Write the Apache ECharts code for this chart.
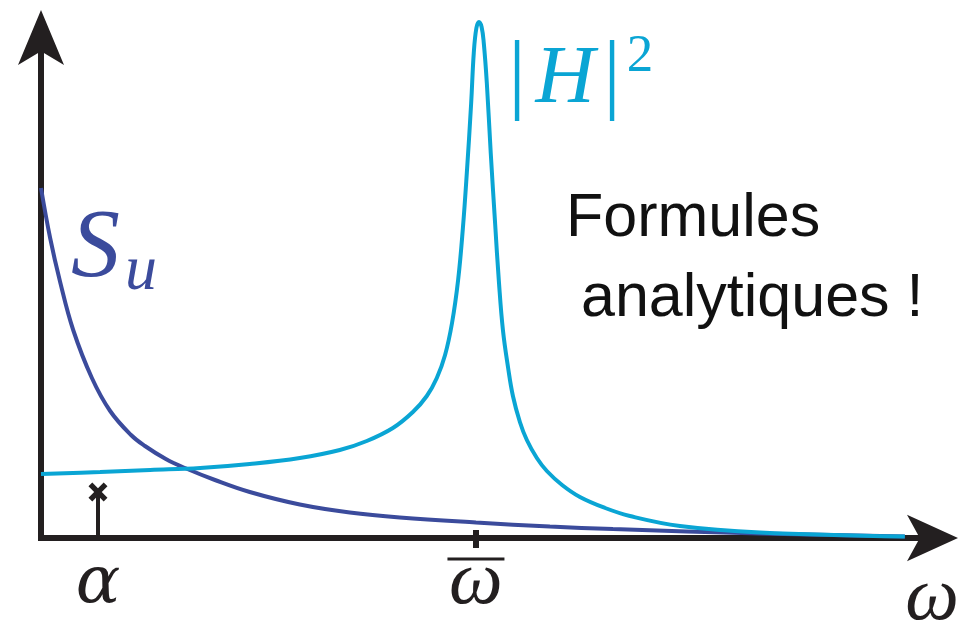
<!DOCTYPE html>
<html><head><meta charset="utf-8">
<script src="https://cdn.jsdelivr.net/npm/echarts@6/dist/echarts.min.js"></script>
<style>html,body{margin:0;padding:0;background:#fff}#c{width:959px;height:626px}</style>
</head><body><div id="c"></div>
<script>
// ---- data (omega in units of omega-bar) ----
const SU_W   = [0, 0.021, 0.044, 0.074, 0.117, 0.159, 0.207, 0.239, 0.287, 0.331, 0.400, 0.480, 0.595, 0.710, 0.825, 1.000, 1.170, 1.315, 1.653, 1.986];
const SU_VAL = [0.700, 0.600, 0.512, 0.416, 0.320, 0.254, 0.206, 0.184, 0.158, 0.140, 0.116, 0.092, 0.067, 0.051, 0.041, 0.031, 0.023, 0.018, 0.009, 0.003];
const H_W   = [0, 0.136, 0.251, 0.366, 0.480, 0.595, 0.687, 0.749, 0.809, 0.855, 0.887, 0.910, 0.929, 0.945, 0.959, 0.970, 0.979, 0.989, 0.995, 1.001, 1.007, 1.013, 1.018, 1.025, 1.034, 1.044, 1.053, 1.062, 1.074, 1.085, 1.101, 1.117, 1.140, 1.163, 1.198, 1.239, 1.297, 1.354, 1.469, 1.653, 1.986];
const H_VAL = [0.128, 0.132, 0.136, 0.140, 0.148, 0.160, 0.176, 0.194, 0.220, 0.252, 0.284, 0.320, 0.366, 0.430, 0.516, 0.620, 0.730, 0.870, 0.970, 1.020, 1.032, 1.022, 0.990, 0.910, 0.770, 0.630, 0.510, 0.416, 0.340, 0.284, 0.232, 0.196, 0.160, 0.134, 0.106, 0.082, 0.060, 0.044, 0.024, 0.011, 0.003];
const ALPHA = 0.131;
const ALPHA_MARK = 0.092;
const OMEGA_BAR = 1;
const X_MAX = 2.083;
const Y_MAX = 1.034;
const TICK_LABELS = ['α', 'ω'];
const AXIS_NAME = 'ω';
const SU_LABEL = ['S', 'u'];
const H_LABEL = ['|', 'H', '|', '2'];
const NOTE_LINES = ['Formules', 'analytiques !'];

const AXIS_C = '#231f20', SU_C = '#3b4b9c', H_C = '#0aa5d4';
const serif = "'Liberation Serif', 'DejaVu Serif', serif";
const dserif = "'DejaVu Serif', 'Liberation Serif', serif";
const sans = "'Liberation Sans', Arial, sans-serif";
const zip = (a, b) => a.map((x, i) => [x, b[i]]);
const CROSS = 'path://M0,2L2,0L5,3L8,0L10,2L7,5L10,8L8,10L5,7L2,10L0,8L3,5Z';

const chart = echarts.init(document.getElementById('c'));
const mathText = (t, x, y, size, color, italic, align) => ({
  type: 'text', silent: true,
  style: { text: t, x: x, y: y, font: (italic ? 'italic ' : '') + size + 'px ' + serif,
           fill: color, align: align || 'left', verticalAlign: 'middle' }
});
const option = {
  animation: false,
  backgroundColor: '#fff',
  grid: { left: 41, right: 12, top: 21, bottom: 88, outerBoundsMode: 'none', containLabel: false },
  xAxis: [{
    type: 'value', min: 0, max: X_MAX, position: 'bottom',
    axisLine: { show: true, onZero: false, symbol: ['none', 'arrow'], symbolSize: [35, 51], symbolOffset: [0, 11],
                lineStyle: { color: AXIS_C, width: 6, cap: 'square' } },
    axisTick: { show: true, customValues: [OMEGA_BAR], length: 10, lineStyle: { color: AXIS_C, width: 6 } },
    axisLabel: {
      show: true, customValues: [ALPHA, OMEGA_BAR], margin: 15,
      formatter: v => Math.abs(v - OMEGA_BAR) < 1e-9 ? '{bar| }\n{w|' + TICK_LABELS[1] + '}' : '{a|' + TICK_LABELS[0] + '}',
      rich: {
        a: { fontFamily: dserif, fontStyle: 'italic', fontSize: 66, lineHeight: 64, color: AXIS_C },
        bar: { width: 57, height: 3, lineHeight: 12, fontSize: 1, backgroundColor: AXIS_C },
        w: { fontFamily: serif, fontStyle: 'italic', fontSize: 76, lineHeight: 36, color: AXIS_C }
      }
    },
    splitLine: { show: false },
    name: AXIS_NAME, nameLocation: 'end', nameGap: -15,
    nameTextStyle: { fontFamily: serif, fontStyle: 'italic', fontSize: 76, color: AXIS_C,
                     align: 'center', verticalAlign: 'top', padding: [23, 0, 0, 0] }
  }, {
    type: 'value', min: 0, max: X_MAX, position: 'bottom',
    axisLine: { show: false },
    axisTick: { show: true, inside: true, customValues: [OMEGA_BAR], length: 8, lineStyle: { color: AXIS_C, width: 6 } },
    axisLabel: { show: false }, splitLine: { show: false }
  }],
  yAxis: {
    type: 'value', min: 0, max: Y_MAX,
    axisLine: { show: true, onZero: false, symbol: ['none', 'arrow'], symbolSize: [34.5, 55], symbolOffset: [0, 11],
                lineStyle: { color: AXIS_C, width: 6, cap: 'square' } },
    axisTick: { show: false }, axisLabel: { show: false }, splitLine: { show: false }
  },
  series: [
    { type: 'line', data: zip(SU_W, SU_VAL), smooth: 0.4, showSymbol: false, clip: false, z: 3,
      lineStyle: { color: SU_C, width: 4 } },
    { type: 'line', data: zip(H_W, H_VAL), smooth: 0.4, showSymbol: false, clip: false, z: 4,
      lineStyle: { color: H_C, width: 4 } },
    { type: 'line', clip: false, z: 5, showSymbol: true,
      data: [{ value: [ALPHA, 0], symbol: 'none' }, { value: [ALPHA, ALPHA_MARK], symbol: CROSS, symbolSize: 19 }],
      lineStyle: { color: AXIS_C, width: 4 }, itemStyle: { color: AXIS_C } }
  ],
  graphic: [
    mathText(SU_LABEL[0], 71, 250, 98, SU_C, true),
    mathText(SU_LABEL[1], 125, 272, 64, SU_C, true),
    mathText(H_LABEL[0], 517, 79, 88, H_C, false, 'center'),
    mathText(H_LABEL[1], 565, 80, 82, H_C, true, 'center'),
    mathText(H_LABEL[2], 612, 79, 88, H_C, false, 'center'),
    mathText(H_LABEL[3], 640, 57, 53, H_C, false, 'center'),
    { type: 'text', silent: true, style: { text: NOTE_LINES[0], x: 566, y: 219, font: '61px ' + sans, fill: '#111', verticalAlign: 'middle' } },
    { type: 'text', silent: true, style: { text: NOTE_LINES[1], x: 581, y: 299, font: '61px ' + sans, fill: '#111', verticalAlign: 'middle' } }
  ]
};
chart.setOption(option);
</script></body></html>
